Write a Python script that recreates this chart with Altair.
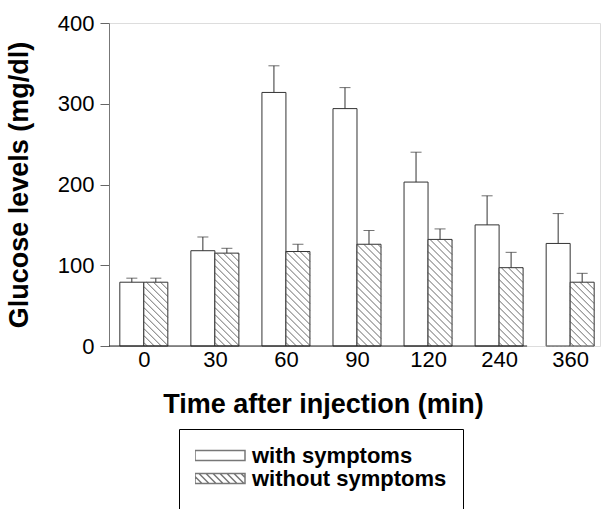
import json
import numpy as np
import pandas as pd
import altair as alt

# ---- data ----
times = ["0", "30", "60", "90", "120", "240", "360"]
with_mean = [79, 118, 314, 294, 203, 150, 127]
with_err = [5, 17, 33, 26, 37, 36, 37]
without_mean = [79, 115, 117, 126, 132, 97, 79]
without_err = [5, 6, 9, 17, 13, 19, 11]
series = ["with symptoms", "without symptoms"]

# ---- layout constants ----
W, H = 491, 323
X_DOM = [-0.49, 6.42]
Y_DOM = [0, 400]
PX_X = W / (X_DOM[1] - X_DOM[0])
PX_Y = H / (Y_DOM[1] - Y_DOM[0])
BAR_PX = 24
BW = BAR_PX / PX_X
HATCH_STEP = 7.0

rows = []
for i, t in enumerate(times):
    rows.append(dict(series=series[0], idx=i, x=i - BW, x2=i, xc=i - BW / 2,
                     v=with_mean[i], top=with_mean[i] + with_err[i]))
    rows.append(dict(series=series[1], idx=i, x=i, x2=i + BW, xc=i + BW / 2,
                     v=without_mean[i], top=without_mean[i] + without_err[i]))
bars = pd.DataFrame(rows)

# diagonal hatching of the "without symptoms" bars, clipped to each bar
hl = []
for _, r in bars[bars.series == series[1]].iterrows():
    h = r.v * PX_Y
    c = HATCH_STEP / 2
    while c < h + BAR_PX:
        xs = max(0.0, c - h)
        xe = min(float(BAR_PX), c)
        if xe - xs > 0.5:
            hl.append(dict(hx=r.x + xs / PX_X, hx2=r.x + xe / PX_X,
                           hy=(c - xs) / PX_Y, hy2=(c - xe) / PX_Y))
        c += HATCH_STEP
hatch = pd.DataFrame(hl)

# x baseline: broken before the last group (as in the original figure)
n = len(times)
base_main = pd.DataFrame([dict(bx=X_DOM[0], bx2=(n - 2) + BW + 4 / PX_X)])
base_last = pd.DataFrame([dict(bx=(n - 1) - BW, bx2=(n - 1) + BW)])

# legend swatch paths (default symbol size 100 -> 5 px per path unit)
SX0, SX1, SY = -2.2, 7.8, 1.0
def swatch_path(hatched):
    p = f"M{SX0},{-SY}L{SX1},{-SY}L{SX1},{SY}L{SX0},{SY}Z"
    if hatched:
        k = SX0 - SY
        while k <= SX1 + SY:
            x0, y0, x1, y1 = k - SY, -SY, k + SY, SY
            if x0 < SX0:
                y0 += SX0 - x0; x0 = SX0
            if x1 > SX1:
                y1 -= x1 - SX1; x1 = SX1
            if x1 - x0 > 0.05:
                p += f"M{x0:.3f},{y0:.3f}L{x1:.3f},{y1:.3f}"
            k += 1.4
    return p

label_expr = json.dumps(times) + "[datum.value]"
FONT = "Liberation Sans"

xscale = alt.Scale(domain=X_DOM, nice=False, zero=False)
yscale = alt.Scale(domain=Y_DOM, nice=False)

x_axis = alt.Axis(values=list(range(n)), labelExpr=label_expr, ticks=False, tickSize=0,
                  domain=False, grid=False, labelFontSize=22, labelPadding=3, labelFont=FONT,
                  title="Time after injection (min)", titleFont=FONT, titleFontSize=27,
                  titleFontWeight="bold", titleX=214, titleY=66, titleBaseline="alphabetic",
                  titleAlign="center", labelColor="black", titleColor="black")
y_axis = alt.Axis(values=[0, 100, 200, 300, 400], grid=False, tickSize=9, labelPadding=6,
                  labelFontSize=22, labelFont=FONT, tickColor="#666", domainColor="#777",
                  title="Glucose levels (mg/dl)", titleFont=FONT, titleFontSize=27,
                  titleFontWeight="bold", titleX=-76, titleColor="black", labelColor="black")

base = alt.Chart(bars)

rect = base.mark_rect(fill="white", stroke="#333", strokeWidth=1).encode(
    x=alt.X("x:Q", scale=xscale, axis=x_axis),
    x2="x2:Q",
    y=alt.Y("v:Q", scale=yscale, axis=y_axis),
    y2=alt.Y2(datum=0),
)

hatch_layer = alt.Chart(hatch).mark_rule(stroke="#444", strokeWidth=0.8).encode(
    x=alt.X("hx:Q", scale=xscale),
    x2="hx2:Q",
    y=alt.Y("hy:Q", scale=yscale),
    y2="hy2:Q",
)

baseline = alt.Chart(base_main).mark_rule(stroke="#222", strokeWidth=1).encode(
    x=alt.X("bx:Q", scale=xscale), x2="bx2:Q", y=alt.Y(datum=0, scale=yscale))
baseline_last = alt.Chart(base_last).mark_rule(stroke="#999", strokeWidth=1,
                                               strokeDash=[2, 2]).encode(
    x=alt.X("bx:Q", scale=xscale), x2="bx2:Q", y=alt.Y(datum=0, scale=yscale))

err = base.mark_rule(stroke="#333", strokeWidth=1).encode(
    x=alt.X("xc:Q", scale=xscale),
    y=alt.Y("v:Q", scale=yscale),
    y2="top:Q",
)
cap = base.mark_tick(orient="horizontal", size=11, thickness=1, color="#333").encode(
    x=alt.X("xc:Q", scale=xscale),
    y=alt.Y("top:Q", scale=yscale),
)

legend_domain = series + [" "]
legend_range = [swatch_path(False), swatch_path(True), "M0,0"]
legend_pts = base.mark_point(color="#777", strokeWidth=1, opacity=1).encode(
    x=alt.value(-60),
    y=alt.value(-60),
    shape=alt.Shape("series:N",
                    scale=alt.Scale(domain=legend_domain, range=legend_range),
                    legend=alt.Legend(title=None, orient="none", legendX=70, legendY=406,
                                      direction="vertical", clipHeight=21, rowPadding=0,
                                      labelFont=FONT, labelFontSize=22,
                                      labelFontWeight="bold", labelOffset=35, labelColor="black",
                                      labelLimit=400, strokeColor="black", fillColor="white",
                                      padding=16)),
)

chart = alt.layer(rect, hatch_layer, baseline, baseline_last, err, cap, legend_pts).properties(
    width=W, height=H,
    autosize=alt.AutoSizeParams(type="none"),
    padding={"left": 109, "top": 23, "right": 1, "bottom": 163},
).configure_view(stroke=None).configure_legend(
    strokeWidth=2.5
).configure(background="white")

chart.save("out.html", embed_options={"renderer": "svg", "actions": False})
